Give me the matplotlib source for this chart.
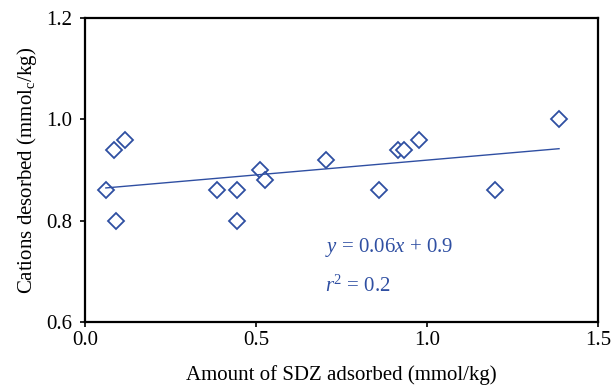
import numpy as np
import matplotlib
matplotlib.use('Agg')
import matplotlib.pyplot as plt

# SDZ adsorbed (mmol/kg) vs cations desorbed (mmolc/kg)
sdz_adsorbed = [0.061, 0.085, 0.091, 0.117, 0.386, 0.444, 0.444, 0.512,
                0.526, 0.705, 0.860, 0.915, 0.933, 0.977, 1.199, 1.386]
cations_desorbed = [0.86, 0.94, 0.80, 0.96, 0.86, 0.86, 0.80, 0.90,
                    0.88, 0.92, 0.86, 0.94, 0.94, 0.96, 0.86, 1.00]

blue = '#2f4fa2'

plt.rcParams['font.family'] = ['Liberation Serif', 'DejaVu Serif']
plt.rcParams['mathtext.fontset'] = 'custom'
plt.rcParams['mathtext.rm'] = 'Liberation Serif'
plt.rcParams['mathtext.it'] = 'Liberation Serif:italic'

fig = plt.figure(figsize=(6.14, 3.87), dpi=100)
ax = fig.add_axes([0.1384, 0.168, 0.8356, 0.7855])

ax.plot(sdz_adsorbed, cations_desorbed, linestyle='none', marker='D',
        markersize=8, markerfacecolor='white', markeredgecolor=blue,
        markeredgewidth=1.3)

# linear trend line
slope, intercept = np.polyfit(sdz_adsorbed, cations_desorbed, 1)
xs = np.array([min(sdz_adsorbed), max(sdz_adsorbed)])
ax.plot(xs, slope * xs + intercept, color=blue, linewidth=1.0)

ax.text(0.702, 0.748, r'$y$ = 0.06$x$ + 0.9', color=blue, fontsize=15,
        va='center', ha='left')
ax.text(0.702, 0.671, r'$r^2$ = 0.2', color=blue, fontsize=15,
        va='center', ha='left')

ax.set_xlim(0, 1.5)
ax.set_ylim(0.6, 1.2)
ax.set_xticks([0.0, 0.5, 1.0, 1.5])
ax.set_yticks([0.6, 0.8, 1.0, 1.2])
ax.xaxis.set_major_formatter(matplotlib.ticker.FormatStrFormatter('%.1f'))
ax.yaxis.set_major_formatter(matplotlib.ticker.FormatStrFormatter('%.1f'))
ax.tick_params(direction='out', length=3.5, width=1.2, labelsize=15,
               colors='black')
ax.tick_params(axis='x', pad=3)
ax.tick_params(axis='y', pad=6)
for sp in ax.spines.values():
    sp.set_linewidth(1.6)

ax.set_xlabel('Amount of SDZ adsorbed (mmol/kg)', fontsize=15, labelpad=11)
ax.set_ylabel(r'Cations desorbed (mmol$_\mathrm{c}$/kg)', fontsize=15, labelpad=5)

fig.savefig('out.png', dpi=100)
